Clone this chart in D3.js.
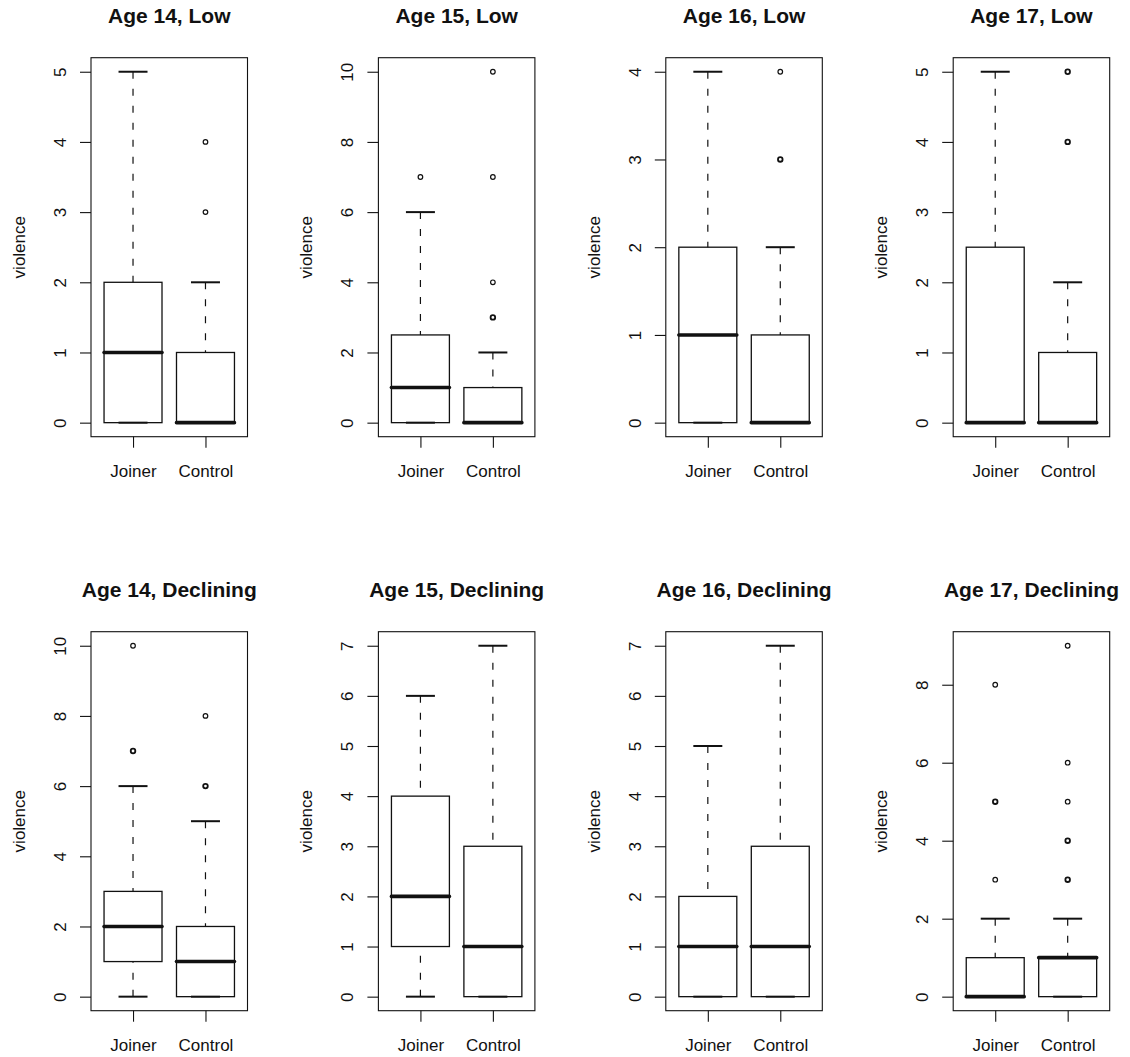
<!DOCTYPE html>
<html>
<head>
<meta charset="utf-8">
<script src="https://cdn.jsdelivr.net/npm/d3@7"></script>
<style>
  html, body { margin: 0; padding: 0; background: #fff; }
  svg { display: block; }
  text { font-family: "Liberation Sans", Arial, Helvetica, sans-serif; fill: #111; }
</style>
</head>
<body>
<svg id="chart" width="1130" height="1057"></svg>
<script>
// ---- data ----
const panelTitles = [
  "Age 14, Low", "Age 15, Low", "Age 16, Low", "Age 17, Low",
  "Age 14, Declining", "Age 15, Declining", "Age 16, Declining", "Age 17, Declining"
];
const groups = ["Joiner", "Control"];
const yLabel = "violence";
// five-number summaries per panel: [lower whisker, Q1, median, Q3, upper whisker]
const joinerStats = [
  [0, 0, 1, 2, 5],
  [0, 0, 1, 2.5, 6],
  [0, 0, 1, 2, 4],
  [0, 0, 0, 2.5, 5],
  [0, 1, 2, 3, 6],
  [0, 1, 2, 4, 6],
  [0, 0, 1, 2, 5],
  [0, 0, 0, 1, 2]
];
const controlStats = [
  [0, 0, 0, 1, 2],
  [0, 0, 0, 1, 2],
  [0, 0, 0, 1, 2],
  [0, 0, 0, 1, 2],
  [0, 0, 1, 2, 5],
  [0, 0, 1, 3, 7],
  [0, 0, 1, 3, 7],
  [0, 0, 1, 1, 2]
];
// outliers (repeated values = overlapping points)
const joinerOutliers = [[], [7], [], [], [7, 7, 10], [], [], [3, 5, 5, 8]];
const controlOutliers = [[3, 4], [3, 3, 4, 7, 10], [3, 3, 4], [4, 4, 5, 5], [6, 6, 8], [], [], [3, 3, 4, 4, 5, 6, 9]];
const yTicks = [
  [0, 1, 2, 3, 4, 5],
  [0, 2, 4, 6, 8, 10],
  [0, 1, 2, 3, 4],
  [0, 1, 2, 3, 4, 5],
  [0, 2, 4, 6, 8, 10],
  [0, 1, 2, 3, 4, 5, 6, 7],
  [0, 1, 2, 3, 4, 5, 6, 7],
  [0, 2, 4, 6, 8]
];

// ---- layout ----
const svg = d3.select("#chart");
const frameW = 156.5, frameH = 379;
const lefts = [91, 378.4, 665.8, 953.2];
const tops = [57.7, 631.7];
const tickLen = 11;
const ink = "#111";

panelTitles.forEach((title, i) => {
  const col = i % 4, row = Math.floor(i / 4);
  const x0 = lefts[col], y0 = tops[row];
  const g = svg.append("g").attr("transform", `translate(${x0},${y0})`);

  const sets = [
    { name: groups[0], s: joinerStats[i], out: joinerOutliers[i] },
    { name: groups[1], s: controlStats[i], out: controlOutliers[i] }
  ];
  const allVals = sets.flatMap(d => d.s.concat(d.out));
  const lo = d3.min(allVals), hi = d3.max(allVals);
  const pad = (hi - lo) * 0.04;
  const y = d3.scaleLinear().domain([lo - pad, hi + pad]).range([frameH, 0]);
  const x = d3.scaleLinear().domain([0.42, 2.58]).range([0, frameW]);

  // frame
  g.append("rect").attr("x", 0).attr("y", 0).attr("width", frameW).attr("height", frameH)
    .attr("fill", "none").attr("stroke", ink).attr("stroke-width", 1.1);

  // y axis
  const yAxis = d3.axisLeft(y).tickValues(yTicks[i]).tickSize(tickLen).tickFormat(d3.format("d"));
  const ya = g.append("g").call(yAxis);
  ya.select(".domain").remove();
  ya.selectAll(".tick line").attr("stroke", ink).attr("stroke-width", 1.1);
  ya.selectAll(".tick text")
    .attr("x", null).attr("dy", null)
    .attr("transform", `translate(${-25},0) rotate(-90)`)
    .attr("text-anchor", "middle")
    .attr("font-size", 17).attr("fill", ink)
    .style("font-family", '"Liberation Sans", Arial, sans-serif');

  // x axis
  const xAxis = d3.axisBottom(x).tickValues([1, 2]).tickSize(tickLen).tickFormat((d) => groups[d - 1]);
  const xa = g.append("g").attr("transform", `translate(0,${frameH})`).call(xAxis);
  xa.select(".domain").remove();
  xa.selectAll(".tick line").attr("stroke", ink).attr("stroke-width", 1.1);
  xa.selectAll(".tick text")
    .attr("y", 40).attr("dy", null)
    .attr("font-size", 17).attr("fill", ink)
    .style("font-family", '"Liberation Sans", Arial, sans-serif');

  // y label
  g.append("text")
    .attr("transform", `translate(${-66},${frameH / 2}) rotate(-90)`)
    .attr("text-anchor", "middle").attr("font-size", 17)
    .text(yLabel);

  // title
  g.append("text")
    .attr("x", frameW / 2).attr("y", -35)
    .attr("text-anchor", "middle").attr("font-size", 21).attr("font-weight", "bold")
    .text(title);

  // boxes
  sets.forEach((d, k) => {
    const cx = x(k + 1);
    const bw = x(1.4) - x(1.0); // half box width (0.4)
    const sw = bw / 2;          // half staple width
    const [lw, q1, med, q3, uw] = d.s;
    const bg = g.append("g");

    // whiskers (dashed), drawn from whisker end toward the box
    if (uw > q3) {
      bg.append("line").attr("x1", cx).attr("x2", cx).attr("y1", y(uw)).attr("y2", y(q3))
        .attr("stroke", ink).attr("stroke-width", 1.2).attr("stroke-dasharray", "7,10");
    }
    if (lw < q1) {
      bg.append("line").attr("x1", cx).attr("x2", cx).attr("y1", y(lw)).attr("y2", y(q1))
        .attr("stroke", ink).attr("stroke-width", 1.2).attr("stroke-dasharray", "7,10");
    }
    // staples
    [lw, uw].forEach(v => {
      bg.append("line").attr("x1", cx - sw).attr("x2", cx + sw).attr("y1", y(v)).attr("y2", y(v))
        .attr("stroke", ink).attr("stroke-width", 2);
    });
    // box
    bg.append("rect").attr("x", cx - bw).attr("width", 2 * bw)
      .attr("y", y(q3)).attr("height", y(q1) - y(q3))
      .attr("fill", "none").attr("stroke", ink).attr("stroke-width", 1.3);
    // median
    bg.append("line").attr("x1", cx - bw).attr("x2", cx + bw).attr("y1", y(med)).attr("y2", y(med))
      .attr("stroke", ink).attr("stroke-width", 3.6).attr("stroke-linecap", "round");

    // outliers
    const counts = Array.from(d3.rollup(d.out, v => v.length, v => v));
    bg.selectAll("circle").data(counts).join("circle")
      .attr("cx", cx).attr("cy", c => y(c[0])).attr("r", 2.3)
      .attr("fill", "none").attr("stroke", ink)
      .attr("stroke-width", c => c[1] > 1 ? 1.8 : 1.2);
  });
});
</script>
</body>
</html>
